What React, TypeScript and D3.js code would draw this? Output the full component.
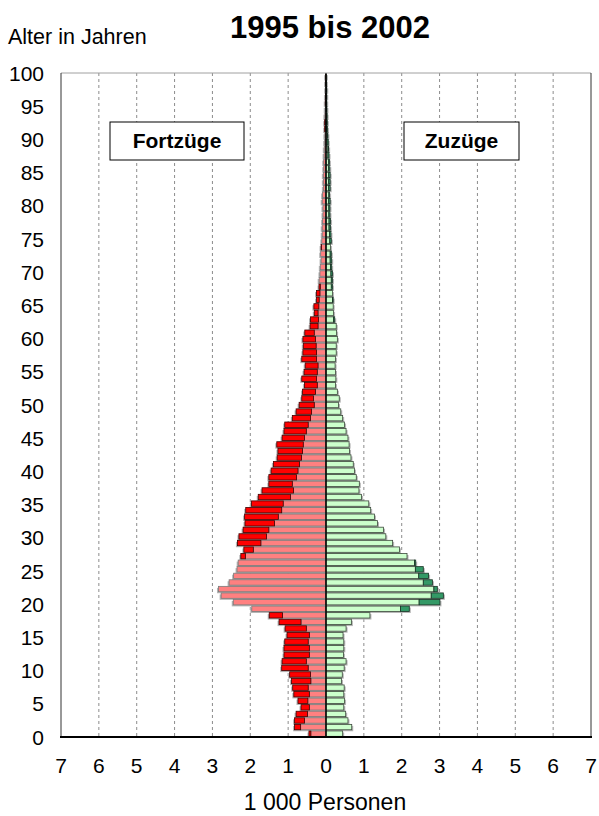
import React from 'react';
import * as d3 from 'd3';

const ages: number[] = Array.from({ length: 101 }, (_, i) => i);

// Fortzüge (left), in 1 000 persons
const fortLight = [
  0.40, 0.67, 0.57, 0.49, 0.44, 0.48, 0.44, 0.47, 0.40, 0.41,
  0.47, 0.52, 0.44, 0.44, 0.47, 0.44, 0.52, 0.66, 1.15, 1.96,
  2.45, 2.77, 2.84, 2.56, 2.44, 2.35, 2.32, 2.13, 1.92, 1.72,
  1.57, 1.51, 1.36, 1.26, 1.17, 1.13, 0.94, 0.86, 0.89, 0.78,
  0.74, 0.70, 0.65, 0.62, 0.60, 0.57, 0.52, 0.47, 0.41, 0.38,
  0.31, 0.33, 0.28, 0.23, 0.25, 0.23, 0.21, 0.25, 0.25, 0.26,
  0.28, 0.31, 0.21, 0.20, 0.21, 0.19, 0.18, 0.16, 0.15, 0.18,
  0.16, 0.15, 0.13, 0.14, 0.12, 0.11, 0.10, 0.10, 0.09, 0.08,
  0.08, 0.10, 0.09, 0.07, 0.07, 0.07, 0.06, 0.06, 0.05, 0.045,
  0.035, 0.03, 0.015, 0.015, 0.03, 0.02, 0.01, 0.01, 0.01, 0.005,
  0.005,
];
const fortDark = [
  0.05, 0.16, 0.26, 0.30, 0.22, 0.26, 0.41, 0.41, 0.51, 0.55,
  0.70, 0.64, 0.67, 0.67, 0.62, 0.59, 0.56, 0.58, 0.35, 0,
  0, 0, 0, 0, 0, 0, 0, 0.12, 0.25, 0.62,
  0.73, 0.68, 0.78, 0.89, 0.95, 0.84, 0.85, 0.83, 0.62, 0.73,
  0.71, 0.69, 0.64, 0.65, 0.70, 0.59, 0.59, 0.62, 0.48, 0.41,
  0.40, 0.31, 0.34, 0.34, 0.39, 0.35, 0.34, 0.39, 0.36, 0.34,
  0.33, 0.25, 0.21, 0.21, 0.10, 0.13, 0.07, 0.09, 0.035, 0,
  0, 0, 0, 0, 0.01, 0, 0, 0, 0, 0,
  0, 0, 0, 0, 0, 0, 0, 0, 0, 0,
  0, 0, 0.02, 0.02, 0, 0, 0.01, 0.005, 0, 0.005,
  0.005,
];

// Zuzüge (right), in 1 000 persons
const zuLight = [
  0.44, 0.68, 0.58, 0.52, 0.47, 0.49, 0.47, 0.48, 0.41, 0.43,
  0.48, 0.53, 0.46, 0.47, 0.47, 0.45, 0.53, 0.67, 1.16, 1.97,
  2.46, 2.78, 2.85, 2.57, 2.45, 2.36, 2.34, 2.14, 1.94, 1.76,
  1.58, 1.52, 1.36, 1.28, 1.18, 1.13, 0.94, 0.87, 0.88, 0.80,
  0.75, 0.72, 0.66, 0.62, 0.61, 0.58, 0.53, 0.49, 0.44, 0.39,
  0.33, 0.35, 0.30, 0.25, 0.26, 0.25, 0.24, 0.25, 0.27, 0.27,
  0.30, 0.28, 0.27, 0.20, 0.20, 0.19, 0.17, 0.17, 0.14, 0.14,
  0.13, 0.12, 0.11, 0.11, 0.12, 0.10, 0.09, 0.08, 0.08, 0.075,
  0.075, 0.07, 0.075, 0.07, 0.07, 0.07, 0.07, 0.07, 0.05, 0.05,
  0.03, 0.03, 0.02, 0.015, 0.02, 0.015, 0.01, 0.01, 0.01, 0.005,
  0.01,
];
const zuDark = [
  0, 0, 0, 0, 0, 0, 0, 0, 0, 0,
  0, 0, 0, 0, 0, 0, 0, 0, 0, 0.23,
  0.55, 0.32, 0.09, 0.24, 0.26, 0.21, 0.03, 0, 0, 0,
  0, 0, 0, 0, 0, 0, 0, 0, 0, 0,
  0, 0, 0, 0, 0, 0, 0, 0, 0, 0,
  0, 0, 0, 0, 0, 0, 0, 0, 0, 0,
  0, 0, 0, 0.03, 0, 0, 0.02, 0, 0.03, 0.03,
  0.04, 0.03, 0.04, 0.03, 0, 0.04, 0.04, 0.04, 0.04, 0.03,
  0.03, 0.04, 0.02, 0.04, 0.04, 0.04, 0.03, 0.02, 0.03, 0.02,
  0.03, 0.02, 0.02, 0.02, 0.01, 0.01, 0.01, 0.01, 0.01, 0.005,
  0,
];

const xTicks = [-7, -6, -5, -4, -3, -2, -1, 0, 1, 2, 3, 4, 5, 6, 7];
const yTicks = [0, 5, 10, 15, 20, 25, 30, 35, 40, 45, 50, 55, 60, 65, 70, 75, 80, 85, 90, 95, 100];

const FONT = "'Liberation Sans', Arial, sans-serif";

export default function App() {
  const W = 599;
  const H = 816;
  const left = 61;
  const right = 591;
  const top = 73;
  const bottom = 737;

  const x = d3.scaleLinear().domain([-7, 7]).range([left, right]);
  const yLin = d3.scaleLinear().domain([0, 100]).range([bottom, top]);
  const yBand = d3
    .scaleBand<number>()
    .domain(ages)
    .range([bottom, top])
    .paddingInner(0.18)
    .paddingOuter(0.1);
  const bw = yBand.bandwidth();
  const x0 = x(0);

  return (
    <svg
      width={W}
      height={H}
      style={{ position: 'absolute', left: 0, top: 0, display: 'block', background: '#fff' }}
      fontFamily={FONT}
    >
      <rect x={0} y={0} width={W} height={H} fill="#fff" />

      {/* grid lines */}
      {xTicks
        .filter((t) => t !== 0 && Math.abs(t) !== 7)
        .map((t) => (
          <line
            key={'g' + t}
            x1={x(t)}
            x2={x(t)}
            y1={top}
            y2={bottom}
            stroke="#8c8c8c"
            strokeWidth={1}
            strokeDasharray="3,3"
          />
        ))}

      {/* shadows */}
      {ages.map((a, i) => {
        const y0 = yBand(a)! + 1.5;
        const lt = fortLight[i] + fortDark[i];
        const rt = zuLight[i] + zuDark[i];
        return (
          <g key={'s' + a}>
            <rect x={x(-lt) - 1.5} y={y0} width={x0 - x(-lt) + 1.5} height={bw} fill="#b4b4b4" />
            <rect x={x0} y={y0} width={x(rt) - x0 + 1.5} height={bw} fill="#b4b4b4" />
          </g>
        );
      })}

      {/* bars */}
      {ages.map((a, i) => {
        const y0 = yBand(a)!;
        const fl = fortLight[i];
        const fd = fortDark[i];
        const zl = zuLight[i];
        const zd = zuDark[i];
        return (
          <g key={'b' + a}>
            <rect x={x(-fl)} y={y0} width={x0 - x(-fl)} height={bw} fill="#ff8080" stroke="#7a7a7a" strokeWidth={0.8} />
            {fd > 0 && (
              <rect x={x(-(fl + fd))} y={y0} width={x(-fl) - x(-(fl + fd))} height={bw} fill="#ff0000" stroke="#400000" strokeWidth={0.8} />
            )}
            <rect x={x0} y={y0} width={x(zl) - x0} height={bw} fill="#ccffcc" stroke="#3c4a3c" strokeWidth={0.8} />
            {zd > 0 && (
              <rect x={x(zl)} y={y0} width={x(zl + zd) - x(zl)} height={bw} fill="#339966" stroke="#1a3326" strokeWidth={0.8} />
            )}
          </g>
        );
      })}

      {/* center line */}
      <line x1={x0} x2={x0} y1={top} y2={bottom} stroke="#000" strokeWidth={1.5} />

      {/* frame */}
      <line x1={left} x2={right} y1={top} y2={top} stroke="#a0a0a0" strokeWidth={1} />
      <line x1={left} x2={left} y1={top} y2={bottom} stroke="#333" strokeWidth={1} />
      <line x1={right} x2={right} y1={top} y2={bottom} stroke="#333" strokeWidth={1} />
      <line x1={left - 1} x2={right + 1} y1={bottom} y2={bottom} stroke="#000" strokeWidth={2} />

      {/* legend boxes */}
      <rect x={110} y={122} width={134} height={38} fill="#fff" stroke="#000" strokeWidth={1} />
      <text x={177} y={148} textAnchor="middle" fontSize={21} fontWeight="bold" fill="#000">Fortzüge</text>
      <rect x={404} y={122} width={115} height={38} fill="#fff" stroke="#000" strokeWidth={1} />
      <text x={461.5} y={148} textAnchor="middle" fontSize={21} fontWeight="bold" fill="#000">Zuzüge</text>

      {/* y tick labels */}
      {yTicks.map((t) => (
        <text key={'y' + t} x={44} y={yLin(t)} dy="0.36em" textAnchor="end" fontSize={21} fill="#000">
          {t}
        </text>
      ))}

      {/* x tick labels */}
      {xTicks.map((t) => (
        <text key={'x' + t} x={x(t)} y={773} textAnchor="middle" fontSize={21} fill="#000">
          {Math.abs(t)}
        </text>
      ))}

      {/* titles */}
      <text x={330} y={38} textAnchor="middle" fontSize={31} fontWeight="bold" fill="#000">1995 bis 2002</text>
      <text x={8} y={44} fontSize={21.5} fill="#000">Alter in Jahren</text>
      <text x={325} y={810} textAnchor="middle" fontSize={23} fill="#000">1 000 Personen</text>
    </svg>
  );
}
